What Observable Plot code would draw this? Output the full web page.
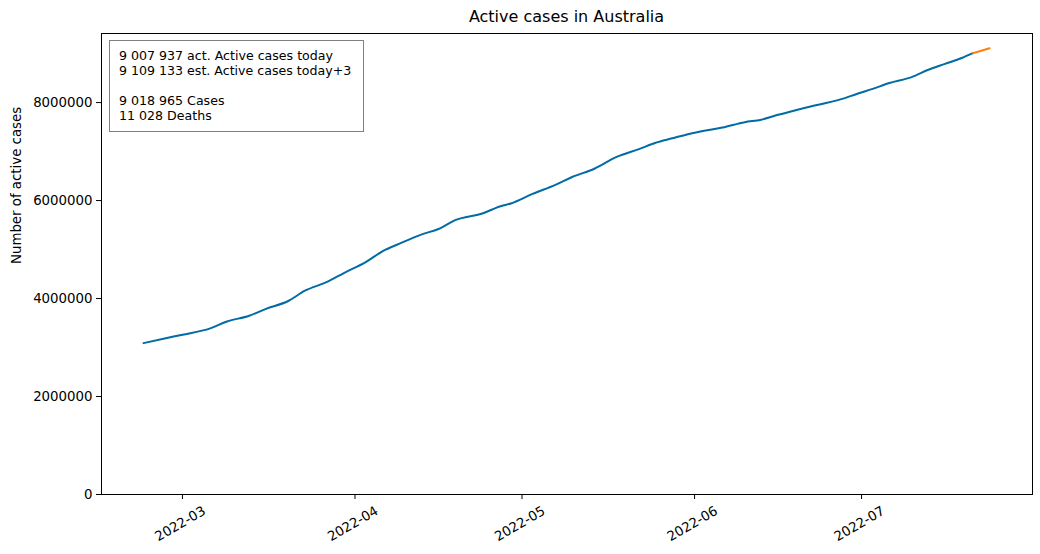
<!DOCTYPE html>
<html>
<head>
<meta charset="utf-8">
<script src="https://cdn.jsdelivr.net/npm/d3@7"></script>
<script src="https://cdn.jsdelivr.net/npm/@observablehq/plot@0.6"></script>
<style>
  body { margin: 0; background: #fff; font-family: "DejaVu Sans", sans-serif; }
  #wrap { position: relative; width: 1040px; height: 554px; }
  #title { box-sizing: border-box; width: 1040px; height: 30px; padding: 7px 8px 0 101px; text-align: center; font-size: 16px; line-height: 20px; color: #000; }
  #info { position: absolute; left: 109px; top: 40px; width: 255px; height: 92px; box-sizing: border-box; border: 1px solid #808080; background: #fff; padding: 7px 9px; font-size: 12.6px; line-height: 15px; color: #000; white-space: pre; }
</style>
</head>
<body>
<div id="wrap">
  <div id="title">Active cases in Australia</div>
  <div id="chart"></div>
  <div id="info"></div>
</div>
<script>
const actualDates = ["2022-02-22","2022-02-26","2022-03-01","2022-03-06","2022-03-09","2022-03-13","2022-03-16","2022-03-20","2022-03-23","2022-03-27","2022-03-30","2022-04-03","2022-04-06","2022-04-09","2022-04-13","2022-04-16","2022-04-19","2022-04-24","2022-04-27","2022-04-29","2022-05-03","2022-05-07","2022-05-10","2022-05-14","2022-05-18","2022-05-22","2022-05-25","2022-05-28","2022-05-31","2022-06-03","2022-06-06","2022-06-10","2022-06-13","2022-06-16","2022-06-19","2022-06-23","2022-06-28","2022-06-30","2022-07-03","2022-07-06","2022-07-10","2022-07-13","2022-07-16","2022-07-19","2022-07-21"];
const actualValues = [3090000,3190000,3260000,3390000,3530000,3650000,3790000,3950000,4160000,4340000,4520000,4750000,4970000,5120000,5310000,5420000,5600000,5740000,5880000,5940000,6140000,6320000,6480000,6650000,6890000,7050000,7180000,7270000,7360000,7430000,7490000,7600000,7650000,7750000,7840000,7950000,8090000,8170000,8280000,8400000,8520000,8670000,8790000,8910000,9007937];
const estDates = ["2022-07-21","2022-07-24"];
const estValues = [9007937,9109133];
const yTicks = [0,2000000,4000000,6000000,8000000];
const xTickLabels = ["2022-03","2022-04","2022-05","2022-06","2022-07"];
const infoLines = ["9 007 937 act. Active cases today","9 109 133 est. Active cases today+3","","9 018 965 Cases","11 028 Deaths"];
const yLabel = "Number of active cases";

const parse = d3.utcParse("%Y-%m-%d");
const actual = actualDates.map((d,i) => ({date: parse(d), value: actualValues[i]}));
const est = estDates.map((d,i) => ({date: parse(d), value: estValues[i]}));
const monthTicks = xTickLabels.map(s => d3.utcParse("%Y-%m")(s));

document.getElementById("info").textContent = infoLines.join("\n");

const chart = Plot.plot({
  width: 1040,
  height: 524,
  marginTop: 3,
  marginBottom: 60,
  marginLeft: 101,
  marginRight: 8,
  style: {fontFamily: "DejaVu Sans, sans-serif", fontSize: "13.33px", color: "#000", background: "#fff"},
  x: {type: "utc", domain: [new Date(Date.UTC(2022,1,14,11)), new Date(Date.UTC(2022,6,31,17))]},
  y: {domain: [0, 9410000]},
  marks: [
    Plot.frame({stroke: "#000", strokeWidth: 1}),
    Plot.axisY({ticks: yTicks, tickFormat: d3.format("d"), tickSize: 5, tickPadding: 4, label: null, fontSize: 13.33}),
    Plot.axisX({ticks: monthTicks, tickFormat: () => "", tickSize: 5, label: null}),
    Plot.text(monthTicks, {x: d => d, frameAnchor: "bottom", dy: 33, rotate: -30, text: (d,i) => xTickLabels[i], fontSize: 13.33, fill: "#000"}),
    Plot.text([yLabel], {frameAnchor: "left", dx: -85, rotate: -90, text: d => d, fontSize: 13.33, fill: "#000"}),
    Plot.line(actual, {x: "date", y: "value", stroke: "#006BA4", strokeWidth: 2, curve: "monotone-x"}),
    Plot.line(est, {x: "date", y: "value", stroke: "#FF800E", strokeWidth: 2})
  ]
});
document.getElementById("chart").appendChild(chart);
</script>
</body>
</html>
